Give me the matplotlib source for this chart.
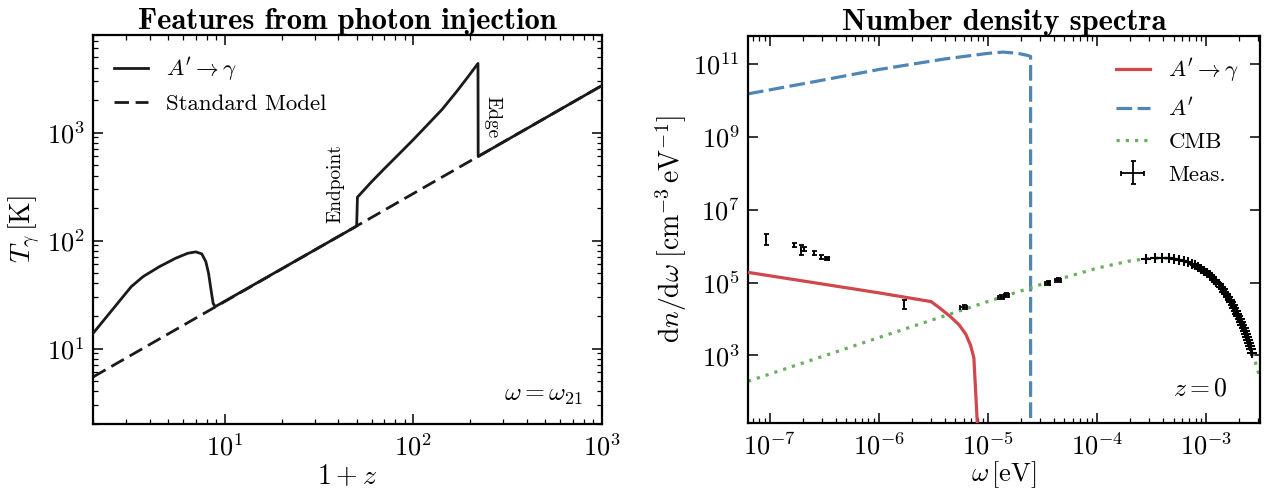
import math
import matplotlib
matplotlib.use("Agg")
import matplotlib.pyplot as plt
from matplotlib.ticker import LogLocator, FixedLocator, NullLocator, FuncFormatter, NullFormatter

plt.rcParams['font.family'] = 'serif'
plt.rcParams['font.serif'] = ['cmr10', 'DejaVu Serif']
plt.rcParams['mathtext.fontset'] = 'cm'
plt.rcParams['axes.formatter.use_mathtext'] = True
plt.rcParams['axes.unicode_minus'] = False

# ---------------- Left panel data ----------------
sm_z = [2.0, 1000.0]
sm_T = [5.45, 2725.0]

ap_z = [2.0, 3.19, 3.69, 4.50, 5.48, 6.36, 7.01, 7.55, 7.93, 8.20, 8.45, 8.67, 8.89,
        50.0, 50.5, 60.0, 70.0, 85.0, 100.0, 120.0, 142.0, 170.0, 195.0, 220.0, 220.5, 1000.0]
ap_T = [13.8, 37.4, 46.4, 57.3, 68.5, 76.2, 78.5, 75.2, 63.8, 49.7, 34.9, 26.2, 24.4,
        136.0, 252.0, 350.0, 461.0, 647.0, 861.0, 1202.0, 1637.0, 2410.0, 3290.0, 4360.0, 600.0, 2725.0]

# ---------------- Right panel data ----------------
red_w = [6.3e-8, 1.0e-6, 3.0e-6, 3.6e-6, 4.45e-6, 5.4e-6, 6.25e-6, 6.9e-6, 7.4e-6, 8.1e-6]
red_n = [1.9e5, 5.2e4, 3.0e4, 2.0e4, 1.2e4, 7.0e3, 3.8e3, 1.9e3, 860.0, 5.0]

blue_w = [6.3e-8, 2.5e-7, 1.0e-6, 4.07e-6, 1.0e-5, 1.37e-5, 1.88e-5, 2.3e-5, 2.45e-5, 2.45e-5]
blue_n = [1.5e10, 3.2e10, 7.0e10, 1.37e11, 1.94e11, 2.1e11, 1.94e11, 1.7e11, 1.6e11, 1.0]

cmb_w = [6.3e-8, 1e-7, 1e-6, 1e-5, 3e-5, 1e-4, 2e-4, 3e-4, 4e-4, 5e-4, 6e-4, 7e-4, 8e-4,
         1e-3, 1.2e-3, 1.5e-3, 1.8e-3, 2.1e-3, 2.4e-3, 2.7e-3, 3.0e-3, 3.2e-3]
cmb_n = [195, 310, 3.1e3, 3.03e4, 8.72e4, 2.49e5, 3.93e5, 4.59e5, 4.70e5, 4.46e5, 4.0e5, 3.46e5, 2.9e5,
         1.90e5, 1.16e5, 5.03e4, 2.02e4, 7.66e3, 2.79e3, 985, 339, 167]

firas_w = [2.81e-4, 3.37e-4, 3.94e-4, 4.50e-4, 5.06e-4, 5.63e-4, 6.19e-4, 6.76e-4, 7.31e-4, 7.87e-4,
           8.44e-4, 9.00e-4, 9.56e-4, 1.013e-3, 1.069e-3, 1.126e-3, 1.182e-3, 1.237e-3, 1.294e-3, 1.350e-3,
           1.406e-3, 1.463e-3, 1.519e-3, 1.576e-3, 1.632e-3, 1.687e-3, 1.744e-3, 1.800e-3, 1.856e-3, 1.913e-3,
           1.969e-3, 2.026e-3, 2.082e-3, 2.137e-3, 2.194e-3, 2.250e-3, 2.307e-3, 2.363e-3, 2.419e-3, 2.476e-3,
           2.532e-3, 2.587e-3, 2.645e-3]
firas_n = [4.52e5, 4.69e5, 4.71e5, 4.62e5, 4.43e5, 4.19e5, 3.91e5, 3.60e5, 3.28e5, 2.97e5,
           2.66e5, 2.37e5, 2.10e5, 1.84e5, 1.61e5, 1.40e5, 1.21e5, 1.05e5, 8.99e4, 7.71e4,
           6.59e4, 5.59e4, 4.75e4, 4.01e4, 3.39e4, 2.86e4, 2.40e4, 2.01e4, 1.69e4, 1.41e4,
           1.18e4, 9.76e3, 8.13e3, 6.75e3, 5.58e3, 4.63e3, 3.82e3, 3.16e3, 2.61e3, 2.15e3,
           1.77e3, 1.46e3, 1.19e3]

lf_w = [9.2e-8, 1.65e-7, 1.94e-7, 2.05e-7, 2.53e-7, 2.96e-7, 3.36e-7, 1.70e-6,
        5.98e-6, 1.32e-5, 1.47e-5, 3.50e-5, 4.39e-5]
lf_n = [1.6e6, 1.07e6, 8.3e5, 8.5e5, 6.5e5, 5.1e5, 4.6e5, 2.6e4,
        2.1e4, 4.0e4, 4.5e4, 1.0e5, 1.2e5]
lf_nerr = [5.5e5, 1.3e5, 2.6e5, 1.0e5, 8e4, 6e4, 5e4, 7.5e3,
           2.5e3, 5e3, 5e3, 1.2e4, 1.4e4]
lf_werr = [0, 0, 0, 0, 0, 0, 1.5e-8, 0,
           4e-7, 8e-7, 8e-7, 2e-6, 2.5e-6]

RED = '#d0474d'
BLUE = '#4f86b4'
GREEN = '#6aae5f'

fig = plt.figure(figsize=(12.65, 4.93), dpi=100)
W, H = 1265.0, 493.0
ax1 = fig.add_axes([93 / W, 1 - 424 / H, 509 / W, 389 / H])
ax2 = fig.add_axes([748 / W, 1 - 423 / H, 512 / W, 387 / H])

TICK_FS = 19
LABEL_FS = 20
LEG_FS = 16.5
TITLE_FS = 22


def style(ax):
    for s in ax.spines.values():
        s.set_linewidth(1.6)
    ax.tick_params(which='both', direction='in', top=True, right=True, labelsize=TICK_FS)
    ax.tick_params(which='major', length=7, width=1.1, pad=6)
    ax.tick_params(axis='x', which='major', pad=7)
    ax.tick_params(which='minor', length=3.5, width=0.9)


# ---------------- Left panel ----------------
ax1.set_xscale('log')
ax1.set_yscale('log')
ax1.plot(sm_z, sm_T, color='#1a1a1a', lw=2.0, dashes=(5.2, 2.4), label='Standard Model', zorder=2)
ax1.plot(ap_z, ap_T, color='#1a1a1a', lw=2.0, label=r"$A'\to\gamma$", zorder=3)
ax1.set_xlim(2, 1000)
ax1.set_ylim(2, 8000)
style(ax1)
ax1.xaxis.set_major_locator(LogLocator(base=10, numticks=10))
ax1.xaxis.set_minor_locator(LogLocator(base=10, subs=range(2, 10), numticks=20))
ax1.yaxis.set_major_locator(LogLocator(base=10, numticks=10))
ax1.yaxis.set_minor_locator(LogLocator(base=10, subs=range(2, 10), numticks=20))
ax1.xaxis.set_minor_formatter(NullFormatter())
ax1.yaxis.set_minor_formatter(NullFormatter())
ax1.set_xlabel(r'$1+z$', fontsize=LABEL_FS, labelpad=2)
ax1.set_ylabel(r'$T_\gamma\,[\mathrm{K}]$', fontsize=LABEL_FS, labelpad=3)
ax1.set_title('Features from photon injection', fontfamily='cmb10', fontsize=TITLE_FS, pad=4)
h, l = ax1.get_legend_handles_labels()
ax1.legend([h[1], h[0]], [l[1], l[0]], loc='upper left', frameon=False, fontsize=LEG_FS,
           handlelength=1.5, handletextpad=0.8, borderaxespad=0.5, labelspacing=0.45)
ax1.text(38.5, 145, 'Endpoint', rotation=90, ha='center', va='bottom', fontsize=14)
ax1.text(262, 2200, 'Edge', rotation=270, ha='center', va='top', fontsize=14)
ax1.text(0.963, 0.075, r'$\omega=\omega_{21}$', transform=ax1.transAxes, ha='right', va='center',
         fontsize=18.5)

# ---------------- Right panel ----------------
ax2.set_xscale('log')
ax2.set_yscale('log')
ax2.plot(red_w, red_n, color=RED, lw=2.3, label=r"$A'\to\gamma$", zorder=3)
ax2.plot(blue_w, blue_n, color=BLUE, lw=2.3, dashes=(4.9, 1.7), label=r"$A'$", zorder=2)
ax2.plot(cmb_w, cmb_n, color=GREEN, lw=2.3, dashes=(1, 1.9), label='CMB', zorder=2)
eb = ax2.errorbar(lf_w, lf_n, yerr=lf_nerr, xerr=lf_werr, fmt='none', ecolor='black',
                  elinewidth=1.3, capsize=1.8, capthick=1.3, label='Meas.', zorder=4)
ax2.plot(firas_w, firas_n, ls='none', marker='+', ms=6.5, mew=1.5, color='black', zorder=4)
ax2.set_xlim(6.3e-8, 3.1e-3)
ax2.set_ylim(14, 5.8e11)
style(ax2)
ax2.xaxis.set_major_locator(LogLocator(base=10, numticks=12))
ax2.xaxis.set_minor_locator(LogLocator(base=10, subs=range(2, 10), numticks=40))
ax2.xaxis.set_minor_formatter(NullFormatter())
ax2.yaxis.set_major_locator(FixedLocator([1e1, 1e3, 1e5, 1e7, 1e9, 1e11]))
ax2.yaxis.set_minor_locator(NullLocator())
ax2.yaxis.set_major_formatter(FuncFormatter(lambda v, p: r'$10^{%d}$' % round(math.log10(v))))
ax2.set_xlabel(r'$\omega\,[\mathrm{eV}]$', fontsize=19, labelpad=0)
ax2.set_ylabel(r'$\mathrm{d}n/\mathrm{d}\omega\;[\mathrm{cm}^{-3}\,\mathrm{eV}^{-1}]$', fontsize=LABEL_FS,
               labelpad=3)
ax2.set_title('Number density spectra', fontfamily='cmb10', fontsize=TITLE_FS, pad=4)
ax2.legend(loc='upper right', frameon=False, fontsize=LEG_FS, handlelength=1.5, handletextpad=0.8,
           borderaxespad=0.5, labelspacing=0.55)
ax2.text(0.9375, 0.09, r'$z=0$', transform=ax2.transAxes, ha='right', va='center', fontsize=18.5)

fig.savefig('out.png', dpi=100)
